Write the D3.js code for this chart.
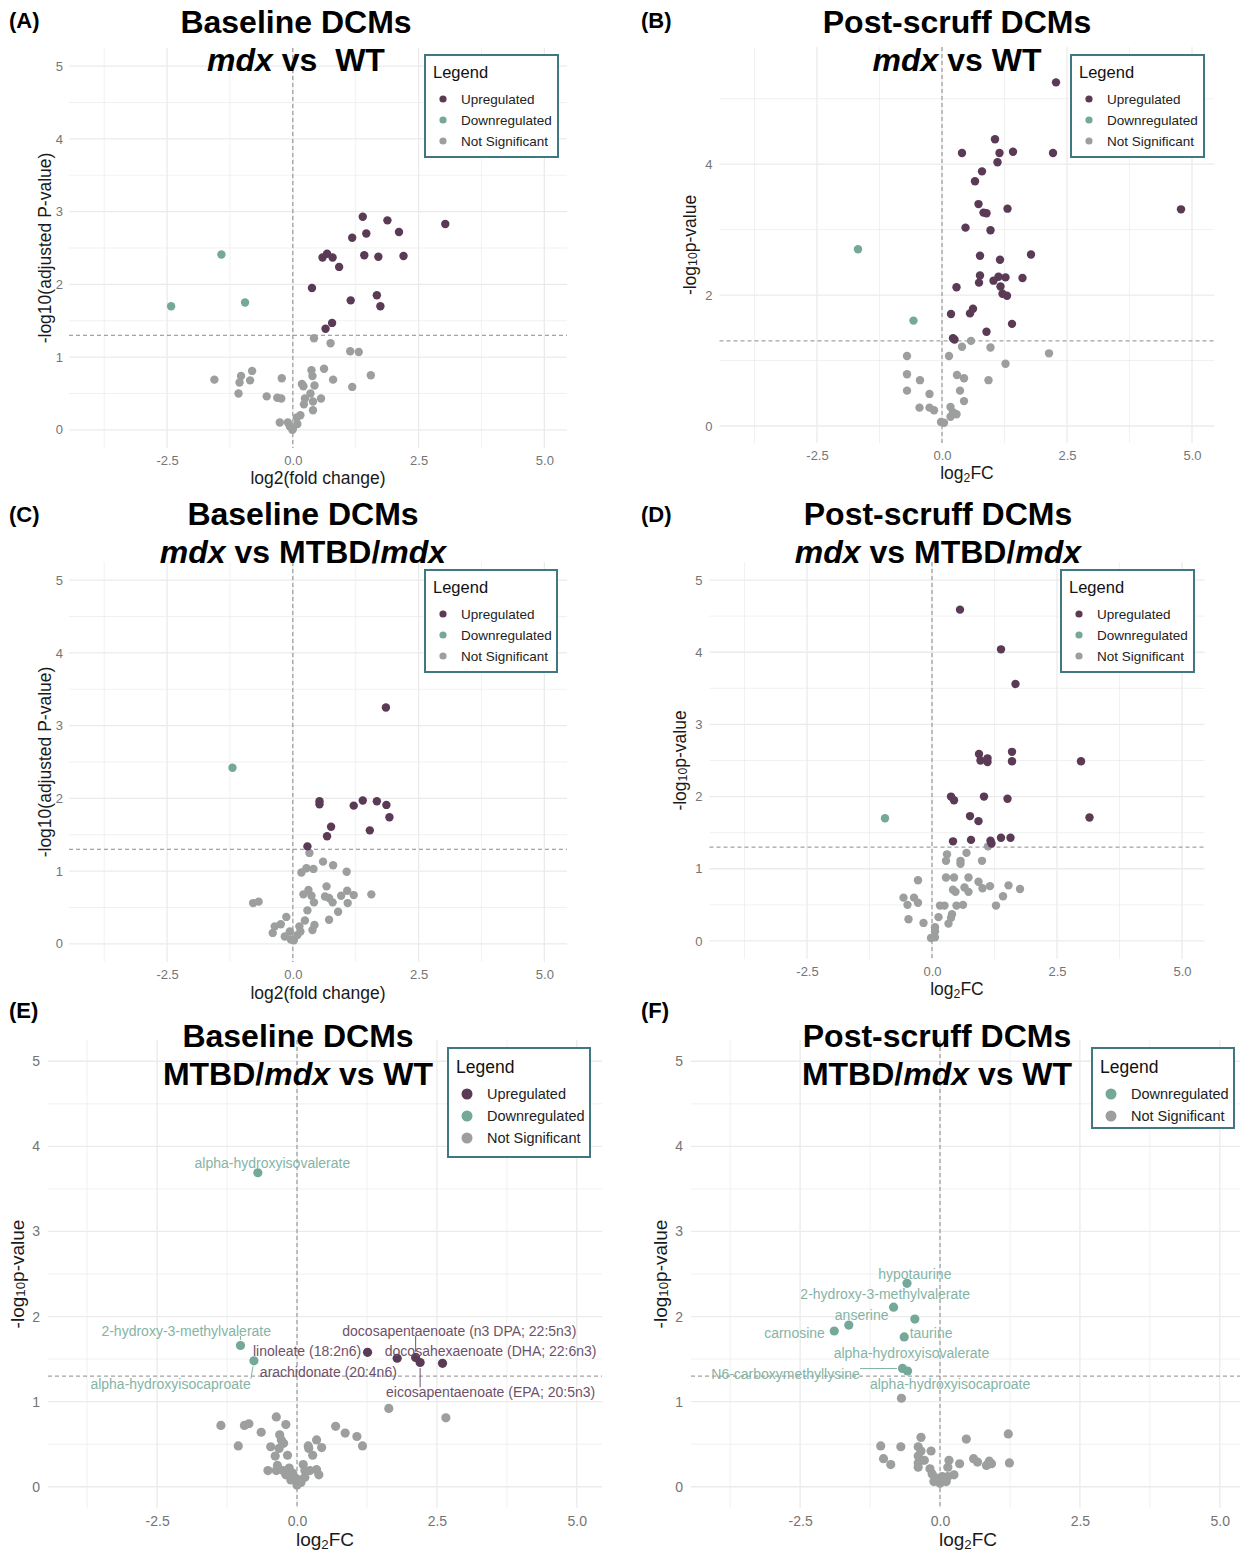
<!DOCTYPE html>
<html>
<head>
<meta charset="utf-8">
<script src="https://cdn.jsdelivr.net/npm/d3@7"></script>
<style>
  body { margin: 0; background: #fff; }
  svg { display: block; font-family: "Liberation Sans", Arial, sans-serif; }
</style>
</head>
<body>
<div id="chart"></div>
<script>
// ---- data: [log2 fold change, -log10 p] ----
const upA = [[1.39,2.93],[1.88,2.88],[3.03,2.83],[1.46,2.70],[2.11,2.72],[1.18,2.64],[0.59,2.37],[0.68,2.42],[0.79,2.37],[1.42,2.40],[1.70,2.38],[2.20,2.39],[0.92,2.24],[0.38,1.95],[1.67,1.85],[1.15,1.78],[1.74,1.70],[0.78,1.47],[0.65,1.39]];
const downA = [[-1.42,2.41],[-2.42,1.70],[-0.95,1.75]];
const nsA = [[0.42,1.26],[0.75,1.19],[1.14,1.08],[1.31,1.07],[0.37,0.82],[0.62,0.84],[0.39,0.74],[0.80,0.69],[1.55,0.75],[-1.56,0.69],[-1.03,0.74],[-0.81,0.81],[-0.85,0.68],[-1.06,0.65],[-1.08,0.50],[-0.22,0.71],[0.18,0.63],[0.21,0.60],[0.43,0.61],[1.18,0.59],[-0.52,0.46],[-0.31,0.44],[-0.23,0.43],[0.24,0.43],[0.35,0.50],[0.56,0.43],[0.40,0.39],[0.22,0.35],[0.40,0.27],[0.15,0.20],[0.08,0.17],[-0.26,0.10],[-0.10,0.10],[0.09,0.08],[-0.06,0.05],[-0.01,0.0],[0.0,0.01]];

const upB = [[2.28,5.25],[1.06,4.38],[0.40,4.17],[1.15,4.17],[1.42,4.19],[2.22,4.17],[1.11,4.03],[0.80,3.89],[0.66,3.74],[0.73,3.39],[0.83,3.26],[0.89,3.25],[1.31,3.32],[4.78,3.31],[0.47,3.03],[0.97,2.99],[1.78,2.62],[0.76,2.60],[1.16,2.54],[0.76,2.30],[0.74,2.19],[1.03,2.22],[1.13,2.28],[1.27,2.27],[1.61,2.26],[0.29,2.12],[1.17,2.13],[1.21,2.02],[1.30,1.99],[0.62,1.79],[0.56,1.72],[0.18,1.71],[1.40,1.56],[0.89,1.44],[0.22,1.34],[0.25,1.32]];
const downB = [[-1.68,2.70],[-0.57,1.61]];
const nsB = [[0.58,1.30],[0.40,1.21],[0.97,1.20],[2.14,1.11],[-0.70,1.07],[0.14,1.07],[1.27,0.95],[-0.70,0.79],[0.30,0.78],[0.44,0.73],[-0.44,0.70],[0.93,0.70],[-0.70,0.54],[0.36,0.54],[-0.25,0.49],[0.44,0.38],[-0.45,0.28],[-0.25,0.28],[-0.16,0.24],[0.17,0.29],[0.22,0.21],[0.29,0.18],[0.17,0.14],[-0.02,0.06],[0.04,0.05]];

const upC = [[1.85,3.25],[0.53,1.96],[0.53,1.92],[1.21,1.90],[1.39,1.97],[1.67,1.96],[1.86,1.91],[1.92,1.74],[0.76,1.61],[0.68,1.48],[1.53,1.56],[0.29,1.34]];
const downC = [[-1.20,2.42]];
const nsC = [[0.33,1.25],[0.60,1.13],[0.80,1.08],[1.07,0.99],[0.17,0.98],[0.27,1.04],[0.41,1.03],[0.67,0.79],[0.21,0.68],[0.31,0.74],[0.37,0.66],[0.64,0.65],[0.72,0.63],[0.79,0.57],[0.96,0.66],[1.08,0.73],[1.09,0.56],[1.21,0.67],[1.56,0.68],[0.42,0.57],[-0.79,0.56],[-0.68,0.58],[0.29,0.46],[0.90,0.44],[0.72,0.33],[-0.13,0.37],[-0.36,0.24],[-0.24,0.27],[-0.40,0.15],[0.24,0.32],[0.43,0.26],[0.13,0.24],[0.39,0.19],[-0.06,0.17],[-0.16,0.10],[0.02,0.05],[0.09,0.12],[0.15,0.17],[-0.04,0.06]];

const upD = [[0.56,4.59],[1.38,4.04],[1.67,3.56],[0.94,2.59],[0.97,2.50],[1.11,2.48],[1.11,2.53],[1.60,2.62],[1.60,2.49],[2.98,2.49],[0.38,2.00],[0.44,1.95],[1.04,2.00],[1.51,1.97],[0.76,1.73],[0.93,1.66],[3.15,1.71],[0.42,1.38],[0.78,1.40],[1.17,1.39],[1.38,1.43],[1.57,1.43],[1.19,1.35]];
const downD = [[-0.94,1.70]];
const nsD = [[1.12,1.31],[0.30,1.20],[0.69,1.22],[0.28,1.11],[0.57,1.11],[0.57,1.07],[1.00,1.11],[0.28,0.88],[0.44,0.88],[0.73,0.88],[-0.28,0.84],[0.93,0.82],[0.42,0.71],[0.47,0.68],[0.65,0.74],[0.73,0.68],[1.01,0.73],[1.16,0.76],[1.53,0.77],[1.76,0.72],[1.42,0.62],[-0.57,0.60],[-0.36,0.60],[-0.28,0.53],[-0.49,0.50],[0.16,0.49],[0.25,0.49],[0.49,0.49],[0.62,0.50],[1.28,0.49],[-0.47,0.30],[-0.17,0.25],[0.13,0.33],[0.40,0.37],[0.38,0.32],[0.33,0.24],[0.06,0.19],[0.06,0.13],[-0.02,0.04],[0.06,0.05]];

const upE = [[1.26,1.58],[1.79,1.51],[2.12,1.52],[2.20,1.46],[2.60,1.45]];
const downE = [[-0.70,3.69],[-1.01,1.66],[-0.77,1.48]];
const nsE = [[1.64,0.92],[2.66,0.81],[-1.36,0.72],[-0.94,0.72],[-0.86,0.74],[-0.37,0.82],[-0.20,0.73],[-0.64,0.64],[-1.05,0.48],[-0.31,0.61],[-0.28,0.55],[-0.24,0.51],[-0.47,0.47],[-0.32,0.45],[-0.39,0.36],[-0.17,0.37],[0.20,0.48],[0.21,0.45],[0.35,0.55],[0.44,0.46],[0.28,0.37],[0.69,0.71],[0.86,0.63],[1.07,0.59],[1.17,0.48],[-0.52,0.19],[-0.37,0.19],[-0.35,0.25],[-0.25,0.19],[-0.14,0.22],[-0.08,0.16],[-0.04,0.11],[0.0,0.02],[0.05,0.08],[0.11,0.26],[0.14,0.19],[0.23,0.19],[0.35,0.20],[0.39,0.14],[0.14,0.11],[0.07,0.05],[-0.11,0.08],[-0.20,0.14]];
// label text, the point it names, label centre (data units), whether a leader line is drawn
const labelsE = [
  { text: "alpha-hydroxyisovalerate", at: [-0.70,3.69], pos: [-0.44,3.81], grp: "down", seg: false },
  { text: "2-hydroxy-3-methylvalerate", at: [-1.01,1.66], pos: [-1.98,1.83], grp: "down", seg: true },
  { text: "alpha-hydroxyisocaproate", at: [-0.77,1.48], pos: [-2.26,1.21], grp: "down", seg: true },
  { text: "linoleate (18:2n6)", at: [1.26,1.58], pos: [0.18,1.60], grp: "up", seg: false },
  { text: "arachidonate (20:4n6)", at: [1.79,1.51], pos: [0.56,1.35], grp: "up", seg: false },
  { text: "docosapentaenoate (n3 DPA; 22:5n3)", at: [2.12,1.52], pos: [2.90,1.83], grp: "up", seg: true },
  { text: "docosahexaenoate (DHA; 22:6n3)", at: [2.60,1.45], pos: [3.46,1.59], grp: "up", seg: false },
  { text: "eicosapentaenoate (EPA; 20:5n3)", at: [2.20,1.46], pos: [3.46,1.11], grp: "up", seg: true }
];

const upF = [];
const downF = [[-0.59,2.39],[-0.83,2.11],[-0.45,1.97],[-1.63,1.90],[-1.89,1.83],[-0.64,1.76],[-0.67,1.39],[-0.58,1.36]];
const nsF = [[-0.69,1.04],[1.22,0.62],[0.47,0.56],[-0.34,0.58],[-1.06,0.48],[-0.70,0.47],[-0.39,0.47],[-0.34,0.42],[-0.16,0.42],[-1.01,0.33],[-0.88,0.26],[-0.39,0.36],[-0.28,0.31],[-0.39,0.28],[-0.39,0.23],[-0.18,0.21],[-0.14,0.15],[-0.11,0.06],[0.0,0.04],[0.11,0.06],[0.14,0.12],[0.16,0.31],[0.14,0.23],[0.25,0.14],[0.35,0.27],[0.60,0.33],[0.67,0.29],[0.88,0.30],[0.83,0.25],[0.92,0.27],[1.24,0.28],[0.04,0.12],[-0.07,0.10]];
const labelsF = [
  { text: "hypotaurine", at: [-0.59,2.39], pos: [-0.45,2.50], grp: "down", seg: false },
  { text: "2-hydroxy-3-methylvalerate", at: [-0.83,2.11], pos: [-0.98,2.27], grp: "down", seg: false },
  { text: "anserine", at: [-1.63,1.90], pos: [-1.40,2.02], grp: "down", seg: false },
  { text: "carnosine", at: [-1.89,1.83], pos: [-2.60,1.81], grp: "down", seg: false },
  { text: "taurine", at: [-0.45,1.97], pos: [-0.16,1.81], grp: "down", seg: false },
  { text: "alpha-hydroxyisovalerate", at: [-0.64,1.76], pos: [-0.51,1.57], grp: "down", seg: false },
  { text: "N6-carboxymethyllysine", at: [-0.67,1.39], pos: [-2.76,1.33], grp: "down", seg: true },
  { text: "alpha-hydroxyisocaproate", at: [-0.58,1.36], pos: [0.18,1.21], grp: "down", seg: false }
];

const xTicks = [-2.5, 0, 2.5, 5];
const xMinor = [-3.75, -1.25, 1.25, 3.75];
const threshold = 1.3;
const legendLabels = { up: "Upregulated", down: "Downregulated", ns: "Not Significant" };

// ---- styling ----
const colors = { up: "#5b3a55", down: "#74a898", ns: "#9c9f9e" };
const labelColors = { up: "#6e5169", down: "#85b4a5" };
const legendBorder = "#3f7880";
const gridColor = "#ebebeb";

const svg = d3.select("#chart").append("svg")
  .attr("width", 1240)
  .attr("height", 1552);

const panels = [
  { tag: "(A)", tagX: 9, tagY: 28, up: upA, down: downA, ns: nsA,
    left: 69, right: 567, top: 48, bottom: 448, yDom: [-0.25, 5.25],
    yTicks: [0,1,2,3,4,5], yMinor: [0.5,1.5,2.5,3.5,4.5],
    title1: "Baseline DCMs", title2: [["mdx", true], [" vs  WT", false]], titleX: 296, titleY: 33,
    yTitle: "adj", yTitleX: 45, xTitle: "fc", xTitleY: 484,
    tickSize: 13, axTitleSize: 17.5, r: 4.2, yPad: 6,
    legend: { x: 425, y: 55, w: 133, h: 102, keys: ["up","down","ns"], big: false } },
  { tag: "(B)", tagX: 641, tagY: 28, up: upB, down: downB, ns: nsB,
    left: 719.5, right: 1214.5, top: 47, bottom: 443, yDom: [-0.26, 5.79],
    yTicks: [0,2,4], yMinor: [1,3,5],
    title1: "Post-scruff DCMs", title2: [["mdx", true], [" vs WT", false]], titleX: 957, titleY: 33,
    yTitle: "p", yTitleX: 690, xTitle: "lfc", xTitleY: 479,
    tickSize: 13, axTitleSize: 17.5, r: 4.2, yPad: 7,
    legend: { x: 1071, y: 55, w: 133, h: 102, keys: ["up","down","ns"], big: false } },
  { tag: "(C)", tagX: 9, tagY: 522, up: upC, down: downC, ns: nsC,
    left: 69, right: 567, top: 562, bottom: 962, yDom: [-0.25, 5.25],
    yTicks: [0,1,2,3,4,5], yMinor: [0.5,1.5,2.5,3.5,4.5],
    title1: "Baseline DCMs", title2: [["mdx", true], [" vs MTBD/", false], ["mdx", true]], titleX: 303, titleY: 525,
    yTitle: "adj", yTitleX: 45, xTitle: "fc", xTitleY: 999,
    tickSize: 13, axTitleSize: 17.5, r: 4.2, yPad: 6,
    legend: { x: 425, y: 570, w: 132, h: 102, keys: ["up","down","ns"], big: false } },
  { tag: "(D)", tagX: 641, tagY: 522, up: upD, down: downD, ns: nsD,
    left: 709.5, right: 1204.5, top: 562, bottom: 959, yDom: [-0.25, 5.25],
    yTicks: [0,1,2,3,4,5], yMinor: [0.5,1.5,2.5,3.5,4.5],
    title1: "Post-scruff DCMs", title2: [["mdx", true], [" vs MTBD/", false], ["mdx", true]], titleX: 938, titleY: 525,
    yTitle: "p", yTitleX: 680, xTitle: "lfc", xTitleY: 995,
    tickSize: 13, axTitleSize: 17.5, r: 4.2, yPad: 7,
    legend: { x: 1061, y: 570, w: 133, h: 102, keys: ["up","down","ns"], big: false } },
  { tag: "(E)", tagX: 9, tagY: 1018, up: upE, down: downE, ns: nsE, labels: labelsE,
    left: 48, right: 602, top: 1040, bottom: 1508, yDom: [-0.25, 5.25],
    yTicks: [0,1,2,3,4,5], yMinor: [0.5,1.5,2.5,3.5,4.5],
    title1: "Baseline DCMs", title2: [["MTBD/", false], ["mdx", true], [" vs WT", false]], titleX: 298, titleY: 1047,
    yTitle: "p", yTitleX: 17, xTitle: "lfc", xTitleY: 1546,
    tickSize: 14, axTitleSize: 19, r: 4.6, yPad: 8,
    legend: { x: 448, y: 1048, w: 142, h: 109, keys: ["up","down","ns"], big: true } },
  { tag: "(F)", tagX: 641, tagY: 1018, up: upF, down: downF, ns: nsF, labels: labelsF,
    left: 691, right: 1245, top: 1040, bottom: 1508, yDom: [-0.25, 5.25],
    yTicks: [0,1,2,3,4,5], yMinor: [0.5,1.5,2.5,3.5,4.5],
    title1: "Post-scruff DCMs", title2: [["MTBD/", false], ["mdx", true], [" vs WT", false]], titleX: 937, titleY: 1047,
    yTitle: "p", yTitleX: 660, xTitle: "lfc", xTitleY: 1546,
    tickSize: 14, axTitleSize: 19, r: 4.6, yPad: 8,
    legend: { x: 1092, y: 1048, w: 142, h: 80, keys: ["down","ns"], big: true } }
];

panels.forEach(drawPanel);

function drawPanel(p) {
  const x = d3.scaleLinear().domain([-4.45, 5.45]).range([p.left, p.right]);
  const y = d3.scaleLinear().domain(p.yDom).range([p.bottom, p.top]);
  const g = svg.append("g");

  // grid
  const grid = g.append("g");
  grid.selectAll(".vminor").data(xMinor).join("line")
    .attr("x1", d => x(d)).attr("x2", d => x(d))
    .attr("y1", p.top).attr("y2", p.bottom)
    .attr("stroke", gridColor).attr("stroke-width", 0.7);
  grid.selectAll(".hminor").data(p.yMinor).join("line")
    .attr("x1", p.left).attr("x2", p.right)
    .attr("y1", d => y(d)).attr("y2", d => y(d))
    .attr("stroke", gridColor).attr("stroke-width", 0.7);
  grid.selectAll(".vmajor").data(xTicks).join("line")
    .attr("x1", d => x(d)).attr("x2", d => x(d))
    .attr("y1", p.top).attr("y2", p.bottom)
    .attr("stroke", gridColor).attr("stroke-width", 1.3);
  grid.selectAll(".hmajor").data(p.yTicks).join("line")
    .attr("x1", p.left).attr("x2", p.right)
    .attr("y1", d => y(d)).attr("y2", d => y(d))
    .attr("stroke", gridColor).attr("stroke-width", 1.3);

  // axes (labels only)
  const ax = g.append("g")
    .attr("transform", `translate(0,${p.bottom})`)
    .call(d3.axisBottom(x).tickValues(xTicks).tickSize(0).tickPadding(8)
      .tickFormat(d => d.toFixed(1)));
  const ay = g.append("g")
    .attr("transform", `translate(${p.left},0)`)
    .call(d3.axisLeft(y).tickValues(p.yTicks).tickSize(0).tickPadding(p.yPad)
      .tickFormat(d3.format("d")));
  [ax, ay].forEach(a => {
    a.select(".domain").remove();
    a.selectAll("text")
      .attr("fill", "#747474")
      .style("font-size", p.tickSize + "px")
      .style("font-family", "'Liberation Sans', Arial, sans-serif");
  });

  // reference lines
  g.append("line")
    .attr("x1", p.left).attr("x2", p.right)
    .attr("y1", y(threshold)).attr("y2", y(threshold))
    .attr("stroke", "#8a8a8a").attr("stroke-dasharray", "4,3").attr("stroke-width", 1);
  g.append("line")
    .attr("x1", x(0)).attr("x2", x(0))
    .attr("y1", p.top).attr("y2", p.bottom)
    .attr("stroke", "#8a8a8a").attr("stroke-dasharray", "4,3").attr("stroke-width", 1);

  // points
  [["ns", p.ns], ["down", p.down], ["up", p.up]].forEach(([k, arr]) => {
    g.append("g").selectAll("circle").data(arr).join("circle")
      .attr("cx", d => x(d[0]))
      .attr("cy", d => y(d[1]))
      .attr("r", p.r)
      .attr("fill", colors[k]);
  });

  // point labels
  if (p.labels) {
    const lg = g.append("g");
    p.labels.forEach(l => {
      const t = lg.append("text")
        .attr("x", x(l.pos[0]))
        .attr("y", y(l.pos[1]))
        .attr("text-anchor", "middle")
        .attr("dominant-baseline", "central")
        .attr("fill", labelColors[l.grp])
        .style("font-size", "14px")
        .text(l.text);
      if (l.seg) {
        const b = t.node().getBBox();
        const px = x(l.at[0]), py = y(l.at[1]);
        const cx = Math.max(b.x, Math.min(px, b.x + b.width));
        const cy = Math.max(b.y + 3, Math.min(py, b.y + b.height - 3));
        const dx = px - cx, dy = py - cy;
        const len = Math.hypot(dx, dy);
        const k = len > 0 ? (len - p.r - 1) / len : 0;
        lg.append("line")
          .attr("x1", cx).attr("y1", cy)
          .attr("x2", cx + dx * k).attr("y2", cy + dy * k)
          .attr("stroke", labelColors[l.grp]).attr("stroke-width", 1);
      }
    });
  }

  // axis titles
  const yt = g.append("text")
    .attr("transform", `translate(${p.yTitleX},${(p.top + p.bottom) / 2}) rotate(-90)`)
    .attr("text-anchor", "middle")
    .attr("dominant-baseline", "central")
    .attr("fill", "#1a1a1a")
    .style("font-size", p.axTitleSize + "px");
  if (p.yTitle === "adj") {
    yt.text("-log10(adjusted P-value)");
  } else {
    yt.append("tspan").text("-log");
    yt.append("tspan").attr("baseline-shift", "-25%").style("font-size", (p.axTitleSize * 0.7) + "px").text("10");
    yt.append("tspan").text("p-value");
  }
  const xt = g.append("text")
    .attr("x", (p.left + p.right) / 2)
    .attr("y", p.xTitleY)
    .attr("text-anchor", "middle")
    .attr("fill", "#1a1a1a")
    .style("font-size", p.axTitleSize + "px");
  if (p.xTitle === "fc") {
    xt.text("log2(fold change)");
  } else {
    xt.append("tspan").text("log");
    xt.append("tspan").attr("baseline-shift", "-25%").style("font-size", (p.axTitleSize * 0.7) + "px").text("2");
    xt.append("tspan").text("FC");
  }

  // legend
  drawLegend(p.legend);

  // titles
  g.append("text")
    .attr("x", p.titleX).attr("y", p.titleY)
    .attr("text-anchor", "middle")
    .style("font-size", "32px").style("font-weight", "bold")
    .text(p.title1);
  const t2 = g.append("text")
    .attr("x", p.titleX).attr("y", p.titleY + 38)
    .attr("text-anchor", "middle")
    .style("font-size", "32px").style("font-weight", "bold")
    .style("white-space", "pre");
  p.title2.forEach(([s, it]) => {
    t2.append("tspan").style("font-style", it ? "italic" : "normal").text(s);
  });

  svg.append("text")
    .attr("x", p.tagX).attr("y", p.tagY)
    .style("font-size", "22px").style("font-weight", "bold")
    .text(p.tag);
}

function drawLegend(L) {
  const s = L.big ? { title: 17.5, item: 14.5, r: 5.5, tY: 25, dX: 19, tX: 39, y0: 46, step: 22 }
                  : { title: 16.5, item: 13.5, r: 3.6, tY: 23, dX: 18, tX: 36, y0: 44, step: 21 };
  const g = svg.append("g").attr("transform", `translate(${L.x},${L.y})`);
  g.append("rect")
    .attr("width", L.w).attr("height", L.h)
    .attr("fill", "#fff")
    .attr("stroke", legendBorder).attr("stroke-width", 2);
  g.append("text")
    .attr("x", 8).attr("y", s.tY)
    .attr("fill", "#111")
    .style("font-size", s.title + "px")
    .text("Legend");
  const items = g.selectAll(".item").data(L.keys).join("g")
    .attr("transform", (d, i) => `translate(0,${s.y0 + i * s.step})`);
  items.append("circle")
    .attr("cx", s.dX).attr("r", s.r)
    .attr("fill", d => colors[d]);
  items.append("text")
    .attr("x", s.tX)
    .attr("dominant-baseline", "central")
    .attr("fill", "#222")
    .style("font-size", s.item + "px")
    .text(d => legendLabels[d]);
}
</script>
</body>
</html>
